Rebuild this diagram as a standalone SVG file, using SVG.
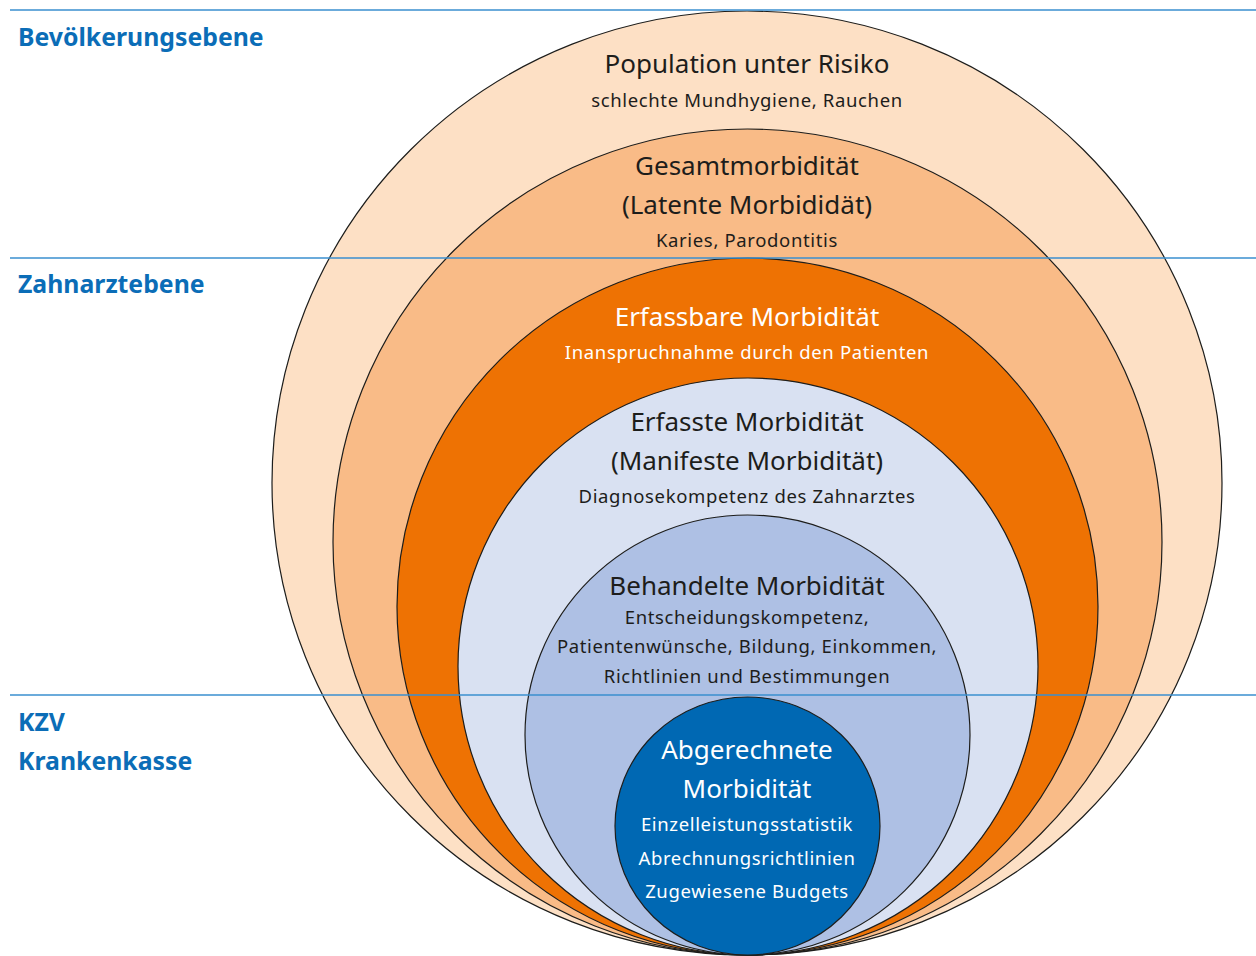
<svg xmlns="http://www.w3.org/2000/svg" width="1256" height="956" viewBox="0 0 1256 956">
<style>
.ring{stroke:#1d1d1b;stroke-width:1.2}
.t{font-family:"Noto Sans","Open Sans",sans-serif;font-size:26px;fill:#1d1d1b;text-anchor:middle}
.s{font-family:"Noto Sans","Open Sans",sans-serif;font-size:18.5px;fill:#1d1d1b;text-anchor:middle;letter-spacing:0.65px}
.w{fill:#ffffff}
.lbl{font-family:"Noto Sans","Open Sans",sans-serif;font-size:24.8px;font-weight:bold;fill:#0b6db7}
.rule{stroke:#3a8fcf;stroke-width:1.5}
</style>
<rect width="1256" height="956" fill="#ffffff"/>
<g id="n1"><ellipse class="ring" cx="747" cy="483" rx="475" ry="472" fill="#fde0c5"/>
<text class="t" x="747" y="73">Population unter Risiko</text>
<text class="s" x="747" y="107">schlechte Mundhygiene, Rauchen</text></g>
<g id="n2"><ellipse class="ring" cx="747.5" cy="542" rx="414.5" ry="413" fill="#f9bb87"/>
<text class="t" x="747" y="175">Gesamtmorbidität</text>
<text class="t" x="747" y="214">(Latente Morbididät)</text>
<text class="s" x="747" y="247">Karies, Parodontitis</text></g>
<g id="n3"><ellipse class="ring" cx="747.5" cy="606.5" rx="350.5" ry="348.5" fill="#ee7203"/>
<text class="t w" x="747" y="326">Erfassbare Morbidität</text>
<text class="s w" x="747" y="359">Inanspruchnahme durch den Patienten</text></g>
<g id="n4"><ellipse class="ring" cx="748" cy="666.5" rx="290" ry="288.5" fill="#d9e1f2"/>
<text class="t" x="747" y="431">Erfasste Morbidität</text>
<text class="t" x="747" y="470">(Manifeste Morbidität)</text>
<text class="s" x="747" y="503">Diagnosekompetenz des Zahnarztes</text></g>
<g id="n5"><ellipse class="ring" cx="747.5" cy="735" rx="222.5" ry="220" fill="#aec0e4"/>
<text class="t" x="747" y="595">Behandelte Morbidität</text>
<text class="s" x="747" y="624">Entscheidungskompetenz,</text>
<text class="s" x="747" y="653">Patientenwünsche, Bildung, Einkommen,</text>
<text class="s" x="747" y="683">Richtlinien und Bestimmungen</text></g>
<g id="n6"><ellipse class="ring" cx="747.5" cy="826" rx="132.5" ry="129" fill="#0068b3"/>
<text class="t w" x="747" y="759">Abgerechnete</text>
<text class="t w" x="747" y="798">Morbidität</text>
<text class="s w" x="747" y="831">Einzelleistungsstatistik</text>
<text class="s w" x="747" y="865">Abrechnungsrichtlinien</text>
<text class="s w" x="747" y="898">Zugewiesene Budgets</text></g>
<g id="connectors">
<line class="rule" x1="10" y1="10" x2="1256" y2="10"/>
<line class="rule" x1="10" y1="258" x2="1256" y2="258"/>
<line class="rule" x1="10" y1="695" x2="1256" y2="695"/>
</g>
<g id="labels">
<text class="lbl" x="18" y="46">Bevölkerungsebene</text>
<text class="lbl" x="18" y="293">Zahnarztebene</text>
<text class="lbl" x="18" y="731">KZV</text>
<text class="lbl" x="18" y="770">Krankenkasse</text>
</g>
</svg>
